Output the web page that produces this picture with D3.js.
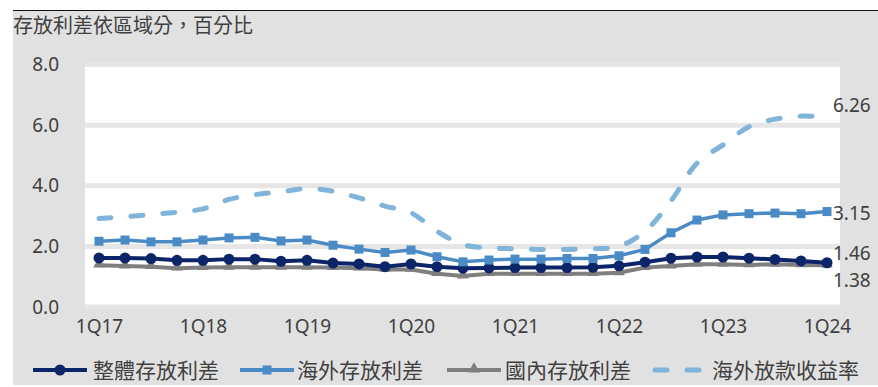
<!DOCTYPE html>
<html>
<head>
<meta charset="utf-8">
<script src="https://cdn.jsdelivr.net/npm/d3@7"></script>
<style>
  body { margin: 0; background: #fff; }
  text { font-family: "Noto Sans", "Noto Sans CJK TC", sans-serif; fill: #404040; }
  .cjk { font-family: "Noto Sans CJK TC", sans-serif; }
</style>
</head>
<body>
<script>
// quarters on the x axis, only the 1Q ones get a label
var quarters = ["1Q17","2Q17","3Q17","4Q17","1Q18","2Q18","3Q18","4Q18",
                "1Q19","2Q19","3Q19","4Q19","1Q20","2Q20","3Q20","4Q20",
                "1Q21","2Q21","3Q21","4Q21","1Q22","2Q22","3Q22","4Q22",
                "1Q23","2Q23","3Q23","4Q23","1Q24"];
var xTicks = ["1Q17","1Q18","1Q19","1Q20","1Q21","1Q22","1Q23","1Q24"];
var yTicks = [0, 2, 4, 6, 8];

// series (percent)
var overall   = [1.62,1.62,1.60,1.54,1.54,1.58,1.58,1.51,1.54,1.45,1.42,1.33,1.42,1.33,1.28,1.29,
                 1.30,1.30,1.30,1.31,1.36,1.48,1.61,1.65,1.65,1.61,1.57,1.52,1.46];
var overseas  = [2.17,2.21,2.15,2.15,2.21,2.28,2.30,2.18,2.21,2.04,1.91,1.80,1.88,1.66,1.49,1.55,
                 1.58,1.58,1.60,1.60,1.69,1.90,2.45,2.87,3.04,3.08,3.10,3.08,3.15];
var domestic  = [1.38,1.35,1.33,1.28,1.30,1.31,1.31,1.31,1.31,1.30,1.28,1.24,1.24,1.10,1.02,1.10,
                 1.10,1.10,1.10,1.10,1.13,1.30,1.35,1.41,1.41,1.39,1.41,1.39,1.38];
var loanYield = [2.92,2.98,3.05,3.13,3.24,3.55,3.71,3.80,3.91,3.82,3.60,3.33,3.11,2.50,2.06,1.95,
                 1.92,1.90,1.90,1.92,2.00,2.50,3.50,4.75,5.35,5.95,6.20,6.30,6.26];
var seriesNames = ["整體存放利差","海外存放利差","國內存放利差","海外放款收益率"];
var endLabels = ["1.46","3.15","1.38","6.26"];

var W = 878, H = 387;
var svg = d3.select("body").append("svg").attr("width", W).attr("height", H);

// gray panel with black rule on top
svg.append("rect").attr("x", 13).attr("y", 10).attr("width", W - 13).attr("height", 375).attr("fill", "#e1e1e1");
svg.append("line").attr("x1", 13).attr("x2", W).attr("y1", 10.5).attr("y2", 10.5)
   .attr("stroke", "#111").attr("stroke-width", 1);

svg.append("text").attr("class", "cjk").attr("x", 13).attr("y", 33)
   .style("font-size", "20px").text("存放利差依區域分，百分比");

var x = d3.scalePoint().domain(quarters).range([99, 827]);
var y = d3.scaleLinear().domain([0, 8]).range([307, 64.6]);

// white plot area, gridlines in panel gray
svg.append("rect").attr("x", 85).attr("y", y(8)).attr("width", 840 - 85).attr("height", y(0) - y(8)).attr("fill", "#fff");
svg.append("g").selectAll("line").data(yTicks).enter().append("line")
   .attr("x1", 85).attr("x2", 840)
   .attr("y1", function(d){ return y(d); }).attr("y2", function(d){ return y(d); })
   .attr("stroke", "#e6e6e6").attr("stroke-width", 5);

// axes
var yAxis = svg.append("g").attr("transform", "translate(62,0)")
   .call(d3.axisLeft(y).tickValues(yTicks).tickFormat(d3.format(".1f")).tickSize(0));
var xAxis = svg.append("g").attr("transform", "translate(0,312)")
   .call(d3.axisBottom(x).tickValues(xTicks).tickSize(0));
[yAxis, xAxis].forEach(function(a){
    a.select(".domain").remove();
    a.selectAll("text").attr("fill", "#404040").style("font-size", "19px")
     .style("font-family", "'Noto Sans', sans-serif");
});
xAxis.selectAll("text").attr("dy", "0.95em");

var navy = "#0c2468", blue = "#4a8bc6", gray = "#7f7f7f", light = "#80b4db";

function makeLine(curve) {
    return d3.line().x(function(d, i){ return x(quarters[i]); }).y(function(d){ return y(d); }).curve(curve);
}

// domestic (gray, triangles)
svg.append("path").datum(domestic).attr("d", makeLine(d3.curveLinear))
   .attr("fill", "none").attr("stroke", gray).attr("stroke-width", 4);
svg.append("g").selectAll("path").data(domestic).enter().append("path")
   .attr("d", d3.symbol().type(d3.symbolTriangle).size(60))
   .attr("transform", function(d, i){ return "translate(" + x(quarters[i]) + "," + (y(d) - 1) + ")"; })
   .attr("fill", gray);

// overall (navy, circles)
svg.append("path").datum(overall).attr("d", makeLine(d3.curveLinear))
   .attr("fill", "none").attr("stroke", navy).attr("stroke-width", 4);
svg.append("g").selectAll("circle").data(overall).enter().append("circle")
   .attr("cx", function(d, i){ return x(quarters[i]); }).attr("cy", function(d){ return y(d); })
   .attr("r", 5.5).attr("fill", navy);

// overseas (blue, squares)
svg.append("path").datum(overseas).attr("d", makeLine(d3.curveLinear))
   .attr("fill", "none").attr("stroke", blue).attr("stroke-width", 3.5);
svg.append("g").selectAll("rect").data(overseas).enter().append("rect")
   .attr("x", function(d, i){ return x(quarters[i]) - 4.5; }).attr("y", function(d){ return y(d) - 4.5; })
   .attr("width", 9).attr("height", 9).attr("fill", blue);

// overseas loan yield (dashed, smoothed)
svg.append("path").datum(loanYield).attr("d", makeLine(d3.curveCatmullRom))
   .attr("fill", "none").attr("stroke", light).attr("stroke-width", 5)
   .attr("stroke-dasharray", "12,20").attr("stroke-linecap", "round");

// labels at the right end
var endY = [253, 213, 280, 105];
svg.append("g").selectAll("text").data(endLabels).enter().append("text")
   .attr("x", 833).attr("y", function(d, i){ return endY[i]; }).attr("dy", "0.35em")
   .style("font-size", "19px").text(function(d){ return d; });

// legend
var legX = [33, 240, 447, 653];
var legText = [93, 297, 505, 712];
var leg = svg.append("g").attr("transform", "translate(0,370)");
seriesNames.forEach(function(name, i) {
    var g = leg.append("g");
    if (i < 3) {
        var c = [navy, blue, gray][i];
        g.append("line").attr("x1", legX[i]).attr("x2", legX[i] + 54).attr("stroke", c).attr("stroke-width", 4);
        var mx = legX[i] + 27;
        if (i === 0) g.append("circle").attr("cx", mx).attr("r", 5.5).attr("fill", c);
        if (i === 1) g.append("rect").attr("x", mx - 4.5).attr("y", -4.5).attr("width", 9).attr("height", 9).attr("fill", c);
        if (i === 2) g.append("path").attr("d", d3.symbol().type(d3.symbolTriangle).size(60)).attr("transform", "translate(" + mx + ",-1)").attr("fill", c);
    } else {
        g.append("line").attr("x1", legX[i] + 2).attr("x2", legX[i] + 50).attr("stroke", light)
         .attr("stroke-width", 5).attr("stroke-dasharray", "12,20").attr("stroke-linecap", "round");
    }
    g.append("text").attr("class", "cjk").attr("x", legText[i]).attr("dy", "0.36em")
     .style("font-size", "21px").text(name);
});
</script>
</body>
</html>
